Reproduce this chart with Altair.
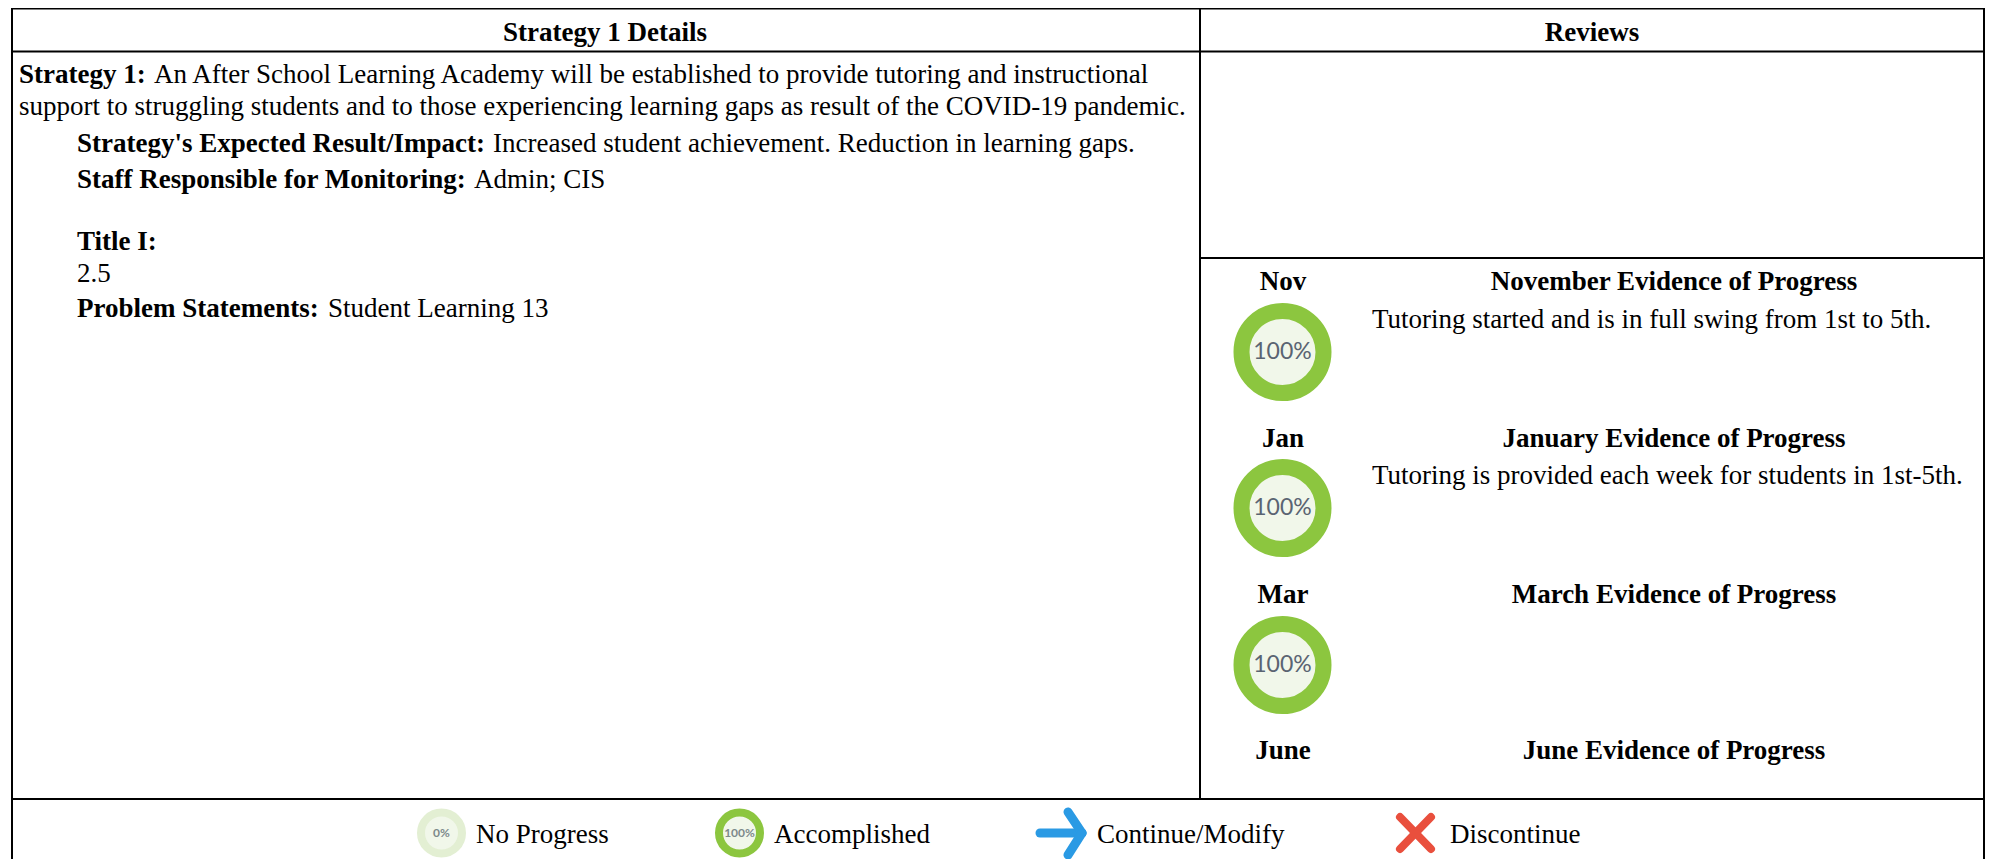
import altair as alt
import pandas as pd

FONT = "Liberation Serif"

# Table text
headers = ["Strategy 1 Details", "Reviews"]
strategy_bold = ["Strategy 1:", "Strategy's Expected Result/Impact:", "Staff Responsible for Monitoring:",
                 "Title I:", "Problem Statements:"]
strategy_plain = [
    "An After School Learning Academy will be established to provide tutoring and instructional",
    "support to struggling students and to those experiencing learning gaps as result of the COVID-19 pandemic.",
    "Increased student achievement. Reduction in learning gaps.",
    "Admin; CIS",
    "2.5",
    "Student Learning 13",
]
months = ["Nov", "Jan", "Mar", "June"]
evidence_titles = ["November Evidence of Progress", "January Evidence of Progress",
                   "March Evidence of Progress", "June Evidence of Progress"]
evidence_notes = ["Tutoring started and is in full swing from 1st to 5th.",
                  "Tutoring is provided each week for students in 1st-5th."]
legend_labels = ["No Progress", "Accomplished", "Continue/Modify", "Discontinue"]
progress_labels = ["100%", "100%", "100%"]
legend_ring_labels = ["0%", "100%"]

# Page layout, in page pixels
rows = [
    (605, 33, headers[0], "bold", "center", 27),
    (1592, 33, headers[1], "bold", "center", 27),
    (19, 75, strategy_bold[0], "bold", "left", 27),
    (154, 75, strategy_plain[0], "normal", "left", 27),
    (19, 107, strategy_plain[1], "normal", "left", 27),
    (77, 144, strategy_bold[1], "bold", "left", 27),
    (493, 144, strategy_plain[2], "normal", "left", 27),
    (77, 180, strategy_bold[2], "bold", "left", 27),
    (474, 180, strategy_plain[3], "normal", "left", 27),
    (77, 242, strategy_bold[3], "bold", "left", 27),
    (77, 274, strategy_plain[4], "normal", "left", 27),
    (77, 309, strategy_bold[4], "bold", "left", 27),
    (328, 309, strategy_plain[5], "normal", "left", 27),
]
for m, t, y in zip(months, evidence_titles, [282, 439, 595, 751]):
    rows.append((1283, y, m, "bold", "center", 27))
    rows.append((1674, y, t, "bold", "center", 27))
rows.append((1372, 320, evidence_notes[0], "normal", "left", 27))
rows.append((1372, 476, evidence_notes[1], "normal", "left", 27))
for x, lab in zip([476, 774, 1097, 1450], legend_labels):
    rows.append((x, 835, lab, "normal", "left", 27))
text_df = pd.DataFrame(rows, columns=["x", "y", "text", "weight", "align", "size"])

line_df = pd.DataFrame(
    [
        (12, 1984, 8.5, 8.5),
        (12, 1984, 51.5, 51.5),
        (1200, 1984, 258, 258),
        (12, 1984, 799, 799),
        (12, 12, 8, 859),
        (1984, 1984, 8, 859),
        (1200, 1200, 8, 799),
    ],
    columns=["x", "x2", "y", "y2"],
)

ring_df = pd.DataFrame({"x": [1282.5, 1282.5, 1282.5], "y": [352, 508, 665], "label": progress_labels})
legend_ring_df = pd.DataFrame(
    {"x": [441.5, 739.5], "y": [833, 833], "label": legend_ring_labels, "color": ["#e3efd3", "#8cc63f"]}
)

arrow_df = pd.DataFrame(
    [(1040, 1082, 833, 833), (1068, 1082, 812, 833), (1068, 1082, 855, 833)],
    columns=["x", "x2", "y", "y2"],
)
cross_df = pd.DataFrame(
    [(1400, 1431, 817, 849), (1400, 1431, 849, 817)],
    columns=["x", "x2", "y", "y2"],
)

W, H = 1977, 851
xs = alt.Scale(domain=[8, 8 + W], nice=False, zero=False)
ys = alt.Scale(domain=[8 + H, 8], nice=False, zero=False)
X = alt.X("x:Q", scale=xs, axis=None)
Y = alt.Y("y:Q", scale=ys, axis=None)


def segments(df, color, width, cap="butt"):
    return alt.Chart(df).mark_rule(color=color, strokeWidth=width, strokeCap=cap).encode(
        x=X, y=Y, x2="x2:Q", y2="y2:Q"
    )


lines = segments(line_df, "#000000", 2)
rings = alt.Chart(ring_df).mark_point(
    shape="circle", filled=False, size=6724, stroke="#8cc63f", strokeWidth=16, fill="#f1f7ea", fillOpacity=1, opacity=1
).encode(x=X, y=Y)
ring_text = alt.Chart(ring_df).mark_text(font="Lato", fontSize=23, color="#5a6472", baseline="middle").encode(
    x=X, y=Y, text="label:N"
)
legend_rings = alt.Chart(legend_ring_df).mark_point(
    shape="circle", filled=False, size=1681, strokeWidth=8, fill="#f1f7ea", fillOpacity=1, opacity=1
).encode(x=X, y=Y, stroke=alt.Stroke("color:N", scale=None, legend=None))
legend_ring_text = alt.Chart(legend_ring_df).mark_text(
    font="Lato", fontSize=12, fontWeight="bold", color="#7d8a8a", baseline="middle"
).encode(x=X, y=Y, text="label:N")
arrow = segments(arrow_df, "#2a9ae4", 9, "round")
cross = segments(cross_df, "#e94f3d", 8, "round")

text_layers = []
for (w, a), g in text_df.groupby(["weight", "align"]):
    text_layers.append(
        alt.Chart(g).mark_text(font=FONT, fontWeight=w, align=a, baseline="middle", color="#000000").encode(
            x=X, y=Y, text="text:N", size=alt.Size("size:Q", scale=None, legend=None)
        )
    )

chart = alt.layer(
    lines, rings, ring_text, legend_rings, legend_ring_text, arrow, cross, *text_layers
).properties(width=W, height=H, padding=0, autosize="none", background="#ffffff").configure_view(stroke=None)

chart.save("out.html", embed_options={"renderer": "svg", "actions": False})
